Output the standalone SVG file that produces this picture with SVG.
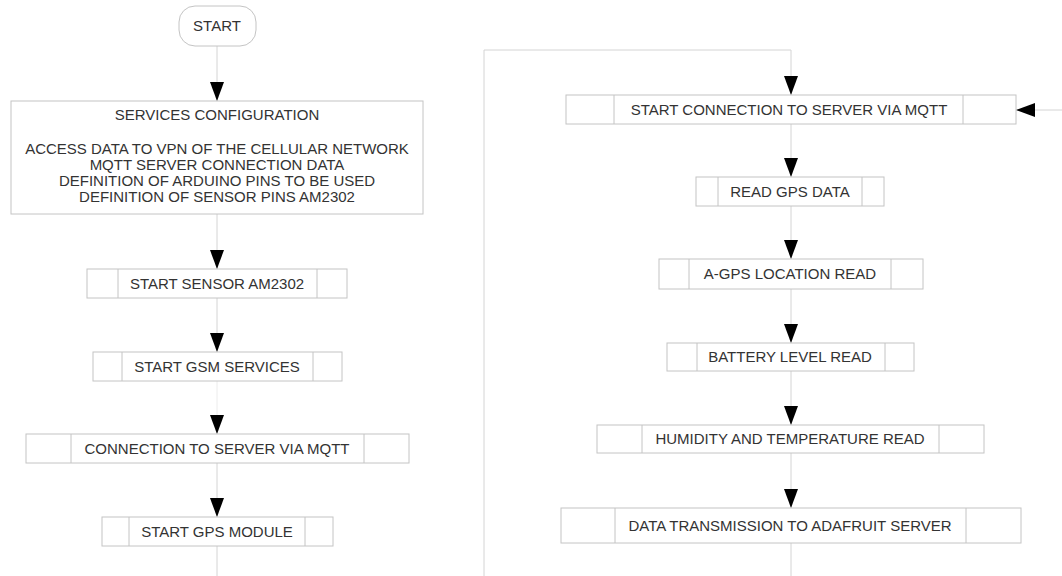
<svg xmlns="http://www.w3.org/2000/svg" width="1062" height="576" viewBox="0 0 1062 576">
<style>
.box{fill:#fff;stroke:#c4c4c4;stroke-width:1}
.div{stroke:#c4c4c4;stroke-width:1}
.con{fill:none;stroke:#d4d4d4;stroke-width:1}
text{font-family:"Liberation Sans",Arial,sans-serif;font-size:15px;fill:#333;text-anchor:middle}
</style>
<defs>
<marker id="ah" markerUnits="userSpaceOnUse" markerWidth="20" markerHeight="14" viewBox="0 0 20 14" refX="19" refY="7" orient="auto">
<path d="M0,0 L19,7 L0,14 Z" fill="#000"/>
</marker>
</defs>
<rect width="1062" height="576" fill="#fff"/>
<g id="connectors">
<path class="con" d="M217,46 V101" marker-end="url(#ah)"/>
<path class="con" d="M217,214 V269" marker-end="url(#ah)"/>
<path class="con" d="M217,298 V352" marker-end="url(#ah)"/>
<path class="con" d="M217,381 V434" marker-end="url(#ah)" style="stroke:#ececec"/>
<path class="con" d="M217,463 V517" marker-end="url(#ah)"/>
<path class="con" d="M217,546 V576"/>
<path class="con" d="M484,576 V50 H791 V95" marker-end="url(#ah)"/>
<path class="con" d="M791,124 V177" marker-end="url(#ah)"/>
<path class="con" d="M791,206 V259" marker-end="url(#ah)"/>
<path class="con" d="M791,289 V343" marker-end="url(#ah)"/>
<path class="con" d="M791,371 V425" marker-end="url(#ah)"/>
<path class="con" d="M791,453 V508" marker-end="url(#ah)"/>
<path class="con" d="M791,543 V576"/>
<path class="con" d="M1062,110 H1016" marker-end="url(#ah)"/>
</g>
<g id="start">
<rect class="box" x="179" y="6" width="77" height="40" rx="16" ry="16"/>
<text x="217" y="31">START</text>
</g>
<g id="services-config">
<rect class="box" x="11" y="101" width="412" height="113"/>
<text x="217" y="120">SERVICES CONFIGURATION</text>
<text x="217" y="154">ACCESS DATA TO VPN OF THE CELLULAR NETWORK</text>
<text x="217" y="170">MQTT SERVER CONNECTION DATA</text>
<text x="217" y="186">DEFINITION OF ARDUINO PINS TO BE USED</text>
<text x="217" y="202">DEFINITION OF SENSOR PINS AM2302</text>
</g>
<g id="start-sensor">
<rect class="box" x="87" y="269" width="260" height="29"/>
<line class="div" x1="118" y1="269" x2="118" y2="298"/>
<line class="div" x1="317" y1="269" x2="317" y2="298"/>
<text x="217" y="289">START SENSOR AM2302</text>
</g>
<g id="start-gsm">
<rect class="box" x="93" y="352" width="249" height="29"/>
<line class="div" x1="122" y1="352" x2="122" y2="381"/>
<line class="div" x1="313" y1="352" x2="313" y2="381"/>
<text x="217" y="372">START GSM SERVICES</text>
</g>
<g id="connection-mqtt">
<rect class="box" x="26" y="434" width="383" height="29"/>
<line class="div" x1="71" y1="434" x2="71" y2="463"/>
<line class="div" x1="364" y1="434" x2="364" y2="463"/>
<text x="217" y="454">CONNECTION TO SERVER VIA MQTT</text>
</g>
<g id="start-gps">
<rect class="box" x="102" y="517" width="231" height="29"/>
<line class="div" x1="129" y1="517" x2="129" y2="546"/>
<line class="div" x1="305" y1="517" x2="305" y2="546"/>
<text x="217" y="537">START GPS MODULE</text>
</g>
<g id="start-connection-mqtt">
<rect class="box" x="566" y="95" width="450" height="29"/>
<line class="div" x1="614" y1="95" x2="614" y2="124"/>
<line class="div" x1="963" y1="95" x2="963" y2="124"/>
<text x="789" y="115">START CONNECTION TO SERVER VIA MQTT</text>
</g>
<g id="read-gps">
<rect class="box" x="696" y="177" width="188" height="29"/>
<line class="div" x1="718" y1="177" x2="718" y2="206"/>
<line class="div" x1="862" y1="177" x2="862" y2="206"/>
<text x="790" y="197">READ GPS DATA</text>
</g>
<g id="agps">
<rect class="box" x="659" y="259" width="264" height="30"/>
<line class="div" x1="689" y1="259" x2="689" y2="289"/>
<line class="div" x1="891" y1="259" x2="891" y2="289"/>
<text x="790" y="279">A-GPS LOCATION READ</text>
</g>
<g id="battery">
<rect class="box" x="667" y="343" width="247" height="28"/>
<line class="div" x1="697" y1="343" x2="697" y2="371"/>
<line class="div" x1="885" y1="343" x2="885" y2="371"/>
<text x="790" y="362">BATTERY LEVEL READ</text>
</g>
<g id="humidity">
<rect class="box" x="597" y="425" width="387" height="28"/>
<line class="div" x1="642" y1="425" x2="642" y2="453"/>
<line class="div" x1="939" y1="425" x2="939" y2="453"/>
<text x="790" y="444">HUMIDITY AND TEMPERATURE READ</text>
</g>
<g id="data-transmission">
<rect class="box" x="561" y="508" width="460" height="35"/>
<line class="div" x1="615" y1="508" x2="615" y2="543"/>
<line class="div" x1="966" y1="508" x2="966" y2="543"/>
<text x="790" y="531">DATA TRANSMISSION TO ADAFRUIT SERVER</text>
</g>
</svg>
